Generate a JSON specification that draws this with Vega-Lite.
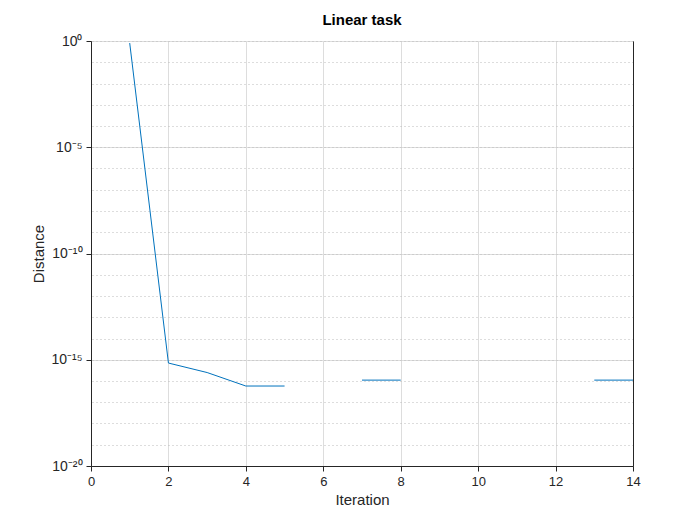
{
  "$schema": "https://vega.github.io/schema/vega-lite/v6.json",
  "width": 542,
  "height": 425,
  "autosize": "none",
  "padding": {"left": 91, "top": 41, "right": 67, "bottom": 59},
  "background": "white",
  "title": {"text": "Linear task", "fontSize": 15, "fontWeight": "bold", "font": "Liberation Sans", "color": "#000000", "offset": 6},
  "data": {
    "values": [
      {"it": 1, "d": 0.8, "seg": "a"},
      {"it": 2, "d": 7e-16, "seg": "a"},
      {"it": 3, "d": 2.5e-16, "seg": "a"},
      {"it": 4, "d": 5.8e-17, "seg": "a"},
      {"it": 5, "d": 5.8e-17, "seg": "a"},
      {"it": 7, "d": 1.1e-16, "seg": "b"},
      {"it": 8, "d": 1.1e-16, "seg": "b"},
      {"it": 13, "d": 1.1e-16, "seg": "c"},
      {"it": 14, "d": 1.1e-16, "seg": "c"}
    ]
  },
  "layer": [
    {
      "mark": {"type": "line", "color": "#0072BD", "strokeWidth": 1},
      "encoding": {
        "x": {"field": "it", "type": "quantitative", "scale": {"domain": [0, 14], "nice": false},
          "axis": {"title": "Iteration", "values": [0,2,4,6,8,10,12,14], "gridColor": "#dddddd", "labelFlush": false}},
        "y": {"field": "d", "type": "quantitative", "scale": {"type": "log", "domain": [1e-20, 1], "nice": false},
          "axis": {"title": "Distance", "values": [1, 1e-5, 1e-10, 1e-15, 1e-20], "gridColor": "#dddddd", "labelFontSize": 14,
            "labelExpr": "datum.value == 1 ? '10⁰' : datum.value > 1e-6 ? '10⁻⁵' : datum.value > 1e-11 ? '10⁻¹⁰' : datum.value > 1e-16 ? '10⁻¹⁵' : '10⁻²⁰'"}},
        "detail": {"field": "seg"}
      }
    },
    {
      "mark": {"type": "point", "opacity": 0},
      "encoding": {
        "x": {"field": "it", "type": "quantitative"},
        "y": {"field": "d", "type": "quantitative",
          "axis": {"orient": "right", "title": null, "labels": false, "ticks": true, "tickSize": 0,
            "values": [1,1e-1,1e-2,1e-3,1e-4,1e-5,1e-6,1e-7,1e-8,1e-9,1e-10,1e-11,1e-12,1e-13,1e-14,1e-15,1e-16,1e-17,1e-18,1e-19,1e-20],
            "grid": true, "gridDash": [1, 3], "gridColor": "#bbbbbb"}}
      }
    }
  ],
  "resolve": {"axis": {"y": "independent"}},
  "config": {
    "view": {"stroke": "#262626"},
    "axis": {"labelFont": "Liberation Sans", "titleFont": "Liberation Sans", "labelFontSize": 13, "titleFontSize": 15,
      "titleFontWeight": "normal", "labelColor": "#262626", "titleColor": "#262626", "domainColor": "#262626", "tickColor": "#262626", "labelPadding": 4}
  }
}
